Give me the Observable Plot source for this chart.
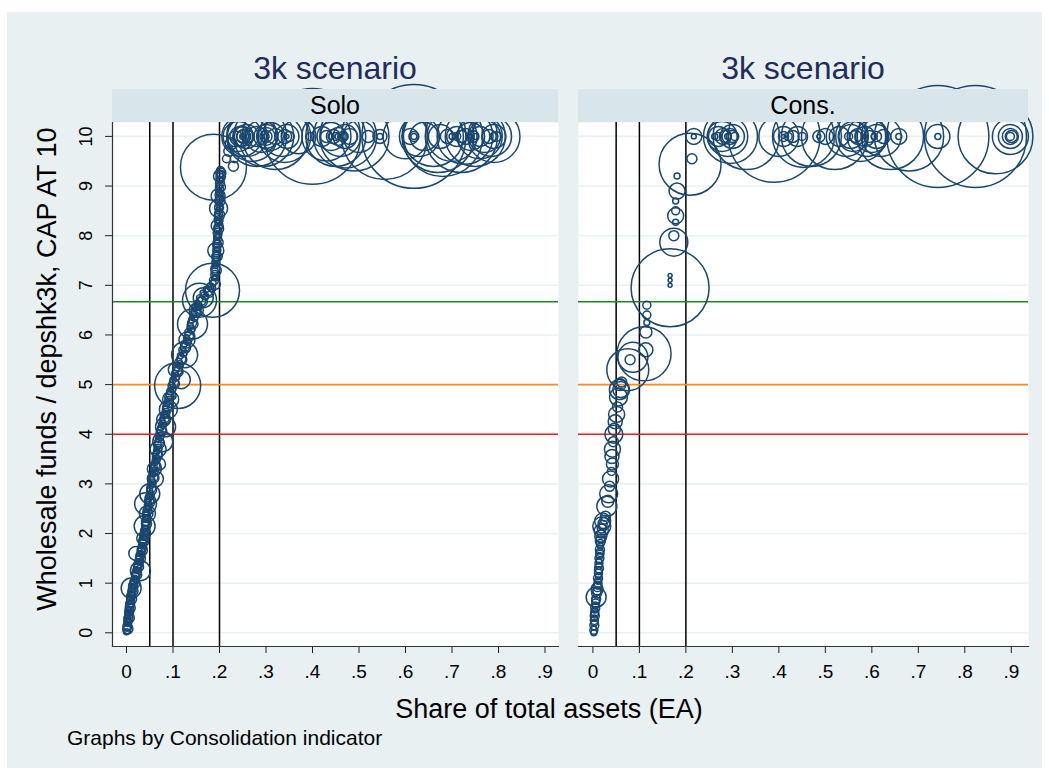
<!DOCTYPE html>
<html><head><meta charset="utf-8">
<script src="https://cdn.jsdelivr.net/npm/d3@7"></script>
<script src="https://cdn.jsdelivr.net/npm/@observablehq/plot@0.6"></script>
<style>
body{margin:0;background:#fff;font-family:"Liberation Sans",Arial,sans-serif;}
#wrap{position:relative;width:1049px;height:770px;overflow:hidden;}
#bg{position:absolute;left:7px;top:12px;width:1035px;height:756px;background:#e8f0f2;}
.panel{position:absolute;top:0;}
.panel svg{overflow:visible;}
.strip{position:absolute;top:89px;height:33px;background:#d8e5eb;display:flex;align-items:center;justify-content:center;font-size:25px;color:#000;z-index:5;}
.title{position:absolute;top:52px;height:32px;line-height:32px;font-size:32px;color:#1f2d5c;text-align:center;white-space:nowrap;transform:translateX(-50%);z-index:5;}
.ytitle{position:absolute;left:47px;top:369px;font-size:27px;white-space:nowrap;transform:translate(-50%,-50%) rotate(-90deg);color:#000;}
.xtitle{position:absolute;left:549px;top:709px;font-size:27px;white-space:nowrap;transform:translate(-50%,-50%);color:#000;}
.note{position:absolute;left:67px;top:738px;font-size:21px;white-space:nowrap;transform:translateY(-50%);color:#000;}
</style></head>
<body>
<div id="wrap"><div id="bg"></div></div>
<script>
// ---- data ----
const panels = ["Solo", "Cons."];
const panelTitle = "3k scenario";
const yTitle = "Wholesale funds / depshk3k, CAP AT 10";
const xTitle = "Share of total assets (EA)";
const note = "Graphs by Consolidation indicator";
const xTicks = [0, .1, .2, .3, .4, .5, .6, .7, .8, .9];
const xTickLabels = ["0", ".1", ".2", ".3", ".4", ".5", ".6", ".7", ".8", ".9"];
const yTicks = [0, 1, 2, 3, 4, 5, 6, 7, 8, 9, 10];
const vLines = [0.05, 0.1, 0.2];
const hLines = [6.67, 5, 4];
const hLineColors = ["#1a8a1a", "#ff8c1a", "#ff1a1a"];

// Solo: [share, ratio, size]
const soloCurve = [
[0.000,0.02,9],[0.001,0.10,12],[0.002,0.18,6],[0.002,0.25,10],[0.003,0.32,8],[0.004,0.40,12],[0.005,0.47,9],[0.006,0.55,14],[0.007,0.62,8],[0.008,0.70,10],
[0.010,0.78,12],[0.011,0.86,9],[0.013,0.95,16],[0.015,1.02,10],[0.017,1.10,8],[0.019,1.18,14],[0.021,1.27,10],[0.023,1.35,12],[0.025,1.43,9],[0.027,1.52,11],
[0.029,1.60,8],[0.031,1.68,13],[0.033,1.76,9],[0.034,1.85,12],[0.036,1.93,10],[0.038,2.02,14],[0.039,2.10,9],[0.040,2.20,12],[0.041,2.30,10],[0.042,2.40,8],
[0.044,2.50,12],[0.046,2.62,10],[0.048,2.72,14],[0.050,2.85,9],[0.052,2.97,12],[0.054,3.08,10],[0.057,3.20,8],[0.059,3.32,12],[0.061,3.43,9],[0.063,3.55,11],
[0.065,3.66,10],[0.067,3.78,13],[0.069,3.90,9],[0.071,4.02,12],[0.074,4.14,10],[0.077,4.26,8],[0.080,4.38,12],[0.084,4.50,10],[0.087,4.62,9],[0.090,4.74,13],
[0.093,4.86,10],[0.097,4.98,12],[0.100,5.10,9],[0.104,5.22,11],[0.108,5.34,10],[0.112,5.46,13],[0.116,5.58,9],[0.120,5.70,12],[0.124,5.82,10],[0.129,5.94,8],
[0.133,6.06,12],[0.137,6.18,10],[0.140,6.30,9],[0.143,6.42,12],[0.147,6.54,10],[0.152,6.64,9],[0.158,6.74,12],[0.165,6.84,10],[0.172,6.92,9],[0.180,6.98,12],
[0.186,7.05,10],[0.189,7.15,8],[0.190,7.28,12],[0.191,7.40,9],[0.192,7.52,11],[0.193,7.64,10],[0.194,7.76,13],[0.195,7.88,9],[0.195,8.00,12],[0.196,8.12,10],
[0.197,8.25,8],[0.197,8.38,12],[0.198,8.50,10],[0.198,8.63,9],[0.199,8.76,12],[0.199,8.88,10],[0.200,9.00,9],[0.200,9.12,12],[0.201,9.24,10],[0.202,9.32,14]
];
const soloCurve2 = [
[0.001,0.06,16],[0.002,0.14,20],[0.003,0.22,16],[0.004,0.29,20],[0.005,0.36,16],[0.006,0.44,20],[0.007,0.51,16],[0.008,0.59,20],[0.009,0.66,16],[0.010,0.74,20],
[0.012,0.82,16],[0.014,0.90,20],[0.016,0.99,16],[0.018,1.06,20],[0.020,1.14,16],[0.022,1.22,20],[0.024,1.31,16],[0.026,1.39,20],[0.028,1.47,16],[0.030,1.56,20],
[0.032,1.64,16],[0.034,1.72,20],[0.035,1.80,16],[0.037,1.89,20],[0.039,1.97,16],[0.040,2.06,20],[0.041,2.15,16],[0.042,2.25,20],[0.043,2.35,16],[0.045,2.45,20],
[0.047,2.56,16],[0.049,2.67,20],[0.051,2.78,16],[0.053,2.91,20],[0.055,3.02,16],[0.058,3.14,20],[0.060,3.26,16],[0.062,3.38,20],[0.064,3.49,16],[0.066,3.60,20],
[0.068,3.72,16],[0.070,3.84,20],[0.072,3.96,16],[0.075,4.08,20],[0.078,4.20,16],[0.082,4.32,20],[0.085,4.44,16],[0.088,4.56,20],[0.091,4.68,16],[0.095,4.80,20],
[0.098,4.92,16],[0.102,5.04,20],[0.106,5.16,16],[0.110,5.28,20],[0.114,5.40,16],[0.118,5.52,20],[0.122,5.64,16],[0.126,5.76,20],[0.131,5.88,16],[0.135,6.00,20],
[0.139,6.12,16],[0.141,6.24,20],[0.145,6.36,16],[0.149,6.48,20],[0.154,6.59,16],[0.161,6.69,20],[0.168,6.79,16],[0.176,6.88,20],[0.183,6.95,16],[0.188,7.10,20],
[0.190,7.22,16],[0.191,7.34,20],[0.192,7.46,16],[0.193,7.58,20],[0.194,7.70,16],[0.195,7.82,20],[0.196,7.94,16],[0.196,8.06,20],[0.197,8.18,16],[0.198,8.31,20],
[0.198,8.44,16],[0.199,8.57,20],[0.199,8.70,16],[0.200,8.82,20],[0.200,8.94,16],[0.201,9.06,20],[0.201,9.18,16],[0.202,9.28,20]
];
const soloCurve3 = [
[0.003,0.08,25],[0.004,0.20,9],[0.006,0.30,25],[0.006,0.40,9],[0.008,0.50,25],[0.009,0.58,9],[0.011,0.68,25],[0.012,0.76,9],[0.014,0.84,25],[0.016,0.93,9],
[0.018,1.00,25],[0.020,1.08,9],[0.022,1.17,25],[0.024,1.25,9],[0.026,1.33,25],[0.028,1.42,9],[0.030,1.50,25],[0.032,1.58,9],[0.034,1.66,25],[0.036,1.75,9],
[0.037,1.84,25],[0.039,1.92,9],[0.041,2.00,25],[0.042,2.09,9],[0.043,2.19,25],[0.044,2.30,9],[0.046,2.40,25],[0.048,2.52,9],[0.050,2.63,25],[0.052,2.75,9],
[0.054,2.88,25],[0.056,3.00,9],[0.059,3.12,25],[0.061,3.24,9],[0.063,3.36,25],[0.065,3.47,9],[0.067,3.58,25],[0.069,3.70,9],[0.071,3.82,25],[0.073,3.94,9],
[0.076,4.06,25],[0.079,4.18,9],[0.083,4.30,25],[0.086,4.42,9],[0.089,4.54,25],[0.092,4.66,9],[0.096,4.78,25],[0.099,4.90,9],[0.103,5.02,25],[0.107,5.14,9],
[0.111,5.26,25],[0.115,5.38,9],[0.119,5.50,25],[0.123,5.62,9],[0.127,5.74,25],[0.132,5.86,9],[0.136,5.98,25],[0.140,6.10,9],[0.143,6.22,25],[0.147,6.34,9],
[0.150,6.46,25],[0.156,6.57,9],[0.163,6.67,25],[0.170,6.77,9],[0.178,6.86,25],[0.185,6.93,9],[0.191,7.02,25],[0.192,7.16,9],[0.193,7.30,25],[0.194,7.44,9],
[0.195,7.58,25],[0.196,7.72,9],[0.197,7.86,25],[0.198,8.00,9],[0.198,8.14,25],[0.199,8.28,9],[0.200,8.42,25],[0.200,8.56,9],[0.201,8.70,25],[0.201,8.84,9],
[0.202,8.98,25],[0.202,9.12,9],[0.203,9.26,25]
];
const soloMid = [
[0.010,0.90,100],[0.030,1.25,100],[0.020,1.60,49],[0.035,1.90,36],[0.039,2.15,110],[0.045,2.40,64],[0.041,2.60,120],[0.050,2.80,100],[0.062,3.10,64],[0.060,3.30,49],
[0.071,3.40,36],[0.068,3.70,64],[0.078,3.85,100],[0.084,4.15,100],[0.080,4.30,49],[0.090,4.50,81],[0.095,4.70,64],[0.110,4.98,530],[0.118,5.10,81],[0.105,5.30,49],
[0.125,5.60,169],[0.130,5.90,64],[0.142,6.22,225],[0.150,6.50,49],[0.157,6.70,289],[0.165,6.75,100],[0.185,6.90,729],[0.192,7.70,64],[0.195,8.20,36],[0.198,8.55,81],
[0.197,8.80,49],[0.200,9.20,36],[0.187,9.38,1089]
];
const soloTop = [
[0.215,9.55,16],[0.220,9.70,25],[0.225,9.85,36],[0.230,9.40,25],[0.232,9.55,16],[0.235,9.95,64],[0.240,10,225],[0.244,10,100],[0.248,10,400],[0.252,10,49],
[0.258,10,144],[0.262,10,36],[0.270,10,625],[0.280,10,100],[0.290,10,256],[0.295,10,900],[0.300,10,81],[0.310,10,196],[0.320,10,64],[0.335,10,400],
[0.340,10,49],[0.345,10,144],[0.350,10,25],[0.400,10,2300],[0.395,10,16],[0.420,10,100],[0.430,10,36],[0.440,10,196],[0.445,10,49],[0.450,10,900],
[0.455,10,81],[0.460,10,400],[0.465,10,25],[0.470,10,144],[0.480,10,64],[0.490,10,1200],[0.500,10,256],[0.520,10,36],[0.545,10,49],[0.545,10,9],
[0.610,10,64],[0.618,10,2700],[0.630,10,400],[0.660,10,900],[0.675,10,144],[0.680,10,1600],[0.690,10,49],[0.700,10,625],[0.710,10,100],[0.720,10,1300],
[0.730,10,64],[0.740,10,196],[0.745,10,36],[0.750,10,900],[0.760,10,100],[0.770,10,256],[0.780,10,49],[0.785,10,400],[0.790,10,144],[0.795,10,25],
[0.250,10,4],[0.250,10,9],[0.300,10,9],[0.345,10,4],[0.440,10,9],[0.450,10,16],[0.460,10,4],[0.470,10,9],[0.618,10,9],[0.618,10,25],
[0.700,10,9],[0.710,10,16],[0.740,10,4],[0.750,10,9],[0.790,10,16],
[0.555,10,1850],[0.670,10,1300],[0.728,10,780],[0.790,10,680],[0.340,10,680],[0.260,10,400],[0.280,10,900],[0.320,10,1100],[0.370,10,300],[0.430,10,600],
[0.470,10,1000],[0.600,10,500],[0.640,10,200],[0.760,10,500],[0.250,10,100],[0.250,10,36],[0.300,10,36],[0.300,10,144],[0.455,10,9],[0.720,10,36]
];
// Cons.: [share, ratio, size]
const consCurve = [
[0.002,0.00,9],[0.002,0.10,6],[0.003,0.20,12],[0.003,0.30,9],[0.004,0.38,16],[0.004,0.46,9],[0.005,0.55,12],[0.006,0.65,16],[0.007,0.72,100],[0.008,0.80,25],
[0.009,0.88,36],[0.010,0.96,16],[0.011,1.05,12],[0.012,1.15,9],[0.012,1.25,16],[0.013,1.35,12],[0.013,1.45,9],[0.014,1.55,12],[0.015,1.62,16],[0.016,1.75,9],
[0.016,1.85,25],[0.017,1.95,36],[0.018,2.05,49],[0.019,2.15,81],[0.021,2.25,64],[0.024,2.20,36],[0.027,2.35,25],[0.030,2.55,100],[0.032,2.65,36],[0.034,2.80,81],
[0.036,2.95,25],[0.038,3.10,64],[0.040,3.25,16],[0.042,3.40,36],[0.041,3.55,49],[0.042,3.70,64],[0.044,3.85,25],[0.045,4.00,81],[0.046,4.10,36],[0.048,4.25,49],
[0.051,4.40,64],[0.053,4.55,25],[0.055,4.75,81],[0.057,4.90,100],[0.058,5.00,36],[0.060,4.90,64],[0.062,5.05,25]
];
const consCurve2 = [
[0.002,0.05,16],[0.003,0.15,20],[0.003,0.25,16],[0.004,0.34,20],[0.004,0.42,16],[0.005,0.50,20],[0.006,0.60,16],[0.007,0.68,20],[0.009,0.84,16],[0.010,0.92,20],
[0.011,1.00,16],[0.011,1.10,20],[0.012,1.20,16],[0.013,1.30,20],[0.013,1.40,16],[0.014,1.50,20],[0.015,1.58,16],[0.015,1.68,20],[0.016,1.80,16],[0.017,1.90,20],
[0.018,2.00,16],[0.019,2.10,20],[0.022,2.18,16],[0.025,2.28,20]
];
const consMid = [
[0.075,5.30,440],[0.086,5.55,225],[0.080,5.50,25],[0.110,5.62,730],[0.114,5.70,49],[0.114,6.06,36],[0.116,6.25,9],[0.116,6.40,16],[0.116,6.60,16],[0.166,6.95,1520],
[0.166,7.00,4],[0.166,7.10,4],[0.166,7.20,4],[0.174,7.87,196],[0.174,8.00,25],[0.178,8.27,9],[0.178,8.40,64],[0.178,8.50,16],[0.178,8.70,9],[0.181,8.90,64],
[0.181,9.20,9],[0.209,9.44,960],[0.213,9.55,25]
];
const consTop = [
[0.217,10,64],[0.217,10,6],[0.262,10,9],[0.268,10,16],[0.270,10,100],[0.278,10,225],[0.285,10,36],[0.290,10,400],[0.295,10,64],[0.300,10,144],
[0.305,10,16],[0.296,10,730],[0.330,10,1100],[0.390,10,2100],[0.400,10,400],[0.410,10,100],[0.410,10,25],[0.410,10,4],[0.430,10,36],[0.450,10,16],
[0.470,10,900],[0.486,10,36],[0.486,10,4],[0.500,10,64],[0.520,10,1100],[0.530,10,100],[0.545,10,400],[0.550,10,16],[0.560,10,225],[0.570,10,64],
[0.576,10,625],[0.585,10,100],[0.595,10,36],[0.600,10,256],[0.605,10,9],[0.610,10,144],[0.620,10,400],[0.625,10,49],[0.640,10,1100],[0.658,10,64],
[0.658,10,9],[0.680,10,1200],[0.742,10,144],[0.742,10,9],[0.742,10,2600],[0.823,10,2600],[0.866,10,1400],[0.898,10,16],[0.898,10,64],[0.898,10,144],
[0.898,10,324],[0.900,10,36],
[0.453,10,960],[0.280,10,64],[0.290,10,9],[0.420,10,16],[0.440,10,100],[0.555,10,144],[0.565,10,36],[0.590,10,400],[0.610,10,25],[0.300,10,36]
];

// ---- drawing ----
const toRows = arr => arr.map(([x, y, s]) => ({x, y, s}));
const panelData = [
  toRows([...soloTop, ...soloMid, ...soloCurve, ...soloCurve2, ...soloCurve3]),
  toRows([...consTop, ...consMid, ...consCurve, ...consCurve2])
];
const navy = "#1a476f";
const wrap = document.getElementById("wrap");
const tickLabel = new Map(xTicks.map((t, i) => [t, xTickLabels[i]]));
const layout = [
  {left: 0, width: 568, ml: 112, mr: 10, xd: [-0.0301, 0.929], yAxis: true},
  {left: 568, width: 481, ml: 10, mr: 21, xd: [-0.031, 0.937], yAxis: false}
];

layout.forEach((L, i) => {
  const marks = [
    Plot.frame({fill: "white", stroke: null}),
    Plot.ruleY(yTicks, {y: d => d, stroke: "#eaf0f3", strokeWidth: 1.6}),
    Plot.ruleX(vLines, {x: d => d, stroke: "#000", strokeWidth: 1.5}),
    Plot.ruleY(hLines, {y: d => d, stroke: (d, j) => hLineColors[j], strokeWidth: 1.6}),
    Plot.dot(panelData[i], {x: "x", y: "y", r: "s", stroke: navy, strokeWidth: 1.5, fill: "none"}),
    Plot.axisX({ticks: xTicks, tickFormat: d => tickLabel.get(d), label: null, tickSize: 7, tickPadding: 11, fontSize: 19, stroke: "#222"}),
    Plot.frame({anchor: "bottom", stroke: "#333", strokeWidth: 1.2})
  ];
  if (L.yAxis) {
    marks.push(Plot.axisY({ticks: yTicks, label: null, tickSize: 7, tickPadding: 14, tickRotate: -90, fontSize: 18, stroke: "#222"}));
    marks.push(Plot.frame({anchor: "left", stroke: "#333", strokeWidth: 1.2}));
  }
  const svg = Plot.plot({
    width: L.width, height: 700,
    marginLeft: L.ml, marginRight: L.mr, marginTop: 122, marginBottom: 54,
    style: {background: "transparent", overflow: "visible", fontFamily: "Liberation Sans, Arial, sans-serif", color: "#000"},
    x: {domain: L.xd, axis: null, label: null},
    y: {domain: [-0.276, 10.28], axis: null, label: null},
    r: {type: "sqrt", domain: [0, 2704], range: [0, 52]},
    marks
  });
  const div = document.createElement("div");
  div.className = "panel";
  div.style.left = L.left + "px";
  div.appendChild(svg);
  wrap.appendChild(div);

  const px0 = L.left + L.ml, px1 = L.left + L.width - L.mr;
  const strip = document.createElement("div");
  strip.className = "strip";
  strip.style.left = px0 + "px";
  strip.style.width = (px1 - px0) + "px";
  strip.textContent = panels[i];
  wrap.appendChild(strip);

  const t = document.createElement("div");
  t.className = "title";
  t.style.left = ((px0 + px1) / 2) + "px";
  t.textContent = panelTitle;
  wrap.appendChild(t);
});

for (const [cls, txt] of [["ytitle", yTitle], ["xtitle", xTitle], ["note", note]]) {
  const d = document.createElement("div");
  d.className = cls;
  d.textContent = txt;
  wrap.appendChild(d);
}
</script>
</body></html>
